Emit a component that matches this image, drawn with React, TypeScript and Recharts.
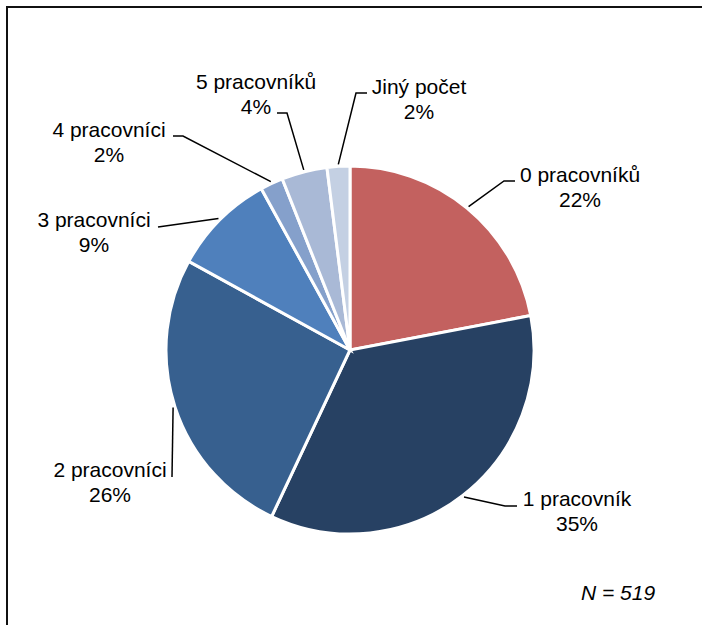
import { PieChart, Pie, Cell } from "recharts";

const categories = [
  "0 pracovníků",
  "1 pracovník",
  "2 pracovníci",
  "3 pracovníci",
  "4 pracovníci",
  "5 pracovníků",
  "Jiný počet",
];
const shares = [22, 35, 26, 9, 2, 4, 2];
const sampleNote = "N = 519";

const colors = ["#C3615F", "#274163", "#37608F", "#4F80BC", "#85A0CB", "#A9B9D6", "#C4D0E3"];

const data = categories.map((name, i) => ({ name, value: shares[i] }));

// leader line bend, line end and label centre, relative to pie centre
const labelLayout = [
  { bend: [154, -169], end: [165, -169], text: [230, -175] },
  { bend: [155, 156], end: [167, 156], text: [227, 149] },
  { bend: [-178, 127], end: [-178, 127], text: [-240, 120] },
  { bend: [-192, -123], end: [-192, -123], text: [-256, -130] },
  { bend: [-167, -214], end: [-177, -214], text: [-241, -220] },
  { bend: [-63, -237], end: [-73, -237], text: [-94, -268] },
  { bend: [6, -257], end: [17, -257], text: [69, -263] },
];

const RAD = Math.PI / 180;
const FONT = "'Liberation Sans', Arial, sans-serif";

const renderLabel = (props: any) => {
  const { cx, cy, midAngle, outerRadius, index, name, value } = props;
  const lay = labelLayout[index];
  const r = outerRadius + 2;
  const sx = cx + r * Math.cos(-midAngle * RAD);
  const sy = cy + r * Math.sin(-midAngle * RAD);
  const bx = cx + lay.bend[0];
  const by = cy + lay.bend[1];
  const ex = cx + lay.end[0];
  const ey = cy + lay.end[1];
  const tx = cx + lay.text[0];
  const ty = cy + lay.text[1];
  return (
    <g key={`lbl-${index}`}>
      <polyline
        points={`${sx},${sy} ${bx},${by} ${ex},${ey}`}
        fill="none"
        stroke="#000"
        strokeWidth={1.5}
      />
      <text x={tx} y={ty + 7} textAnchor="middle" fontSize={21} fontFamily={FONT} fill="#000">
        {name}
      </text>
      <text x={tx} y={ty + 32} textAnchor="middle" fontSize={21} fontFamily={FONT} fill="#000">
        {`${value}%`}
      </text>
    </g>
  );
};

const App = () => {
  return (
    <div
      style={{
        position: "absolute",
        left: 0,
        top: 0,
        width: 702,
        height: 625,
        overflow: "hidden",
        background: "#fff",
      }}
    >
      <div
        style={{
          position: "absolute",
          left: 6,
          top: 6,
          width: 740,
          height: 680,
          border: "2px solid #111",
        }}
      />
      <PieChart
        width={702}
        height={625}
        margin={{ top: 0, right: 0, bottom: 0, left: 0 }}
        style={{ position: "absolute", left: 0, top: 0 }}
      >
        <Pie
          data={data}
          dataKey="value"
          nameKey="name"
          cx={350}
          cy={350}
          outerRadius={184}
          startAngle={90}
          endAngle={-270}
          stroke="#fff"
          strokeWidth={3}
          label={renderLabel}
          labelLine={false}
          isAnimationActive={false}
        >
          {data.map((d, i) => (
            <Cell key={d.name} fill={colors[i]} />
          ))}
        </Pie>
        <text
          x={618}
          y={600}
          textAnchor="middle"
          fontSize={21}
          fontStyle="italic"
          fontFamily={FONT}
          fill="#000"
        >
          {sampleNote}
        </text>
      </PieChart>
    </div>
  );
};

export default App;
